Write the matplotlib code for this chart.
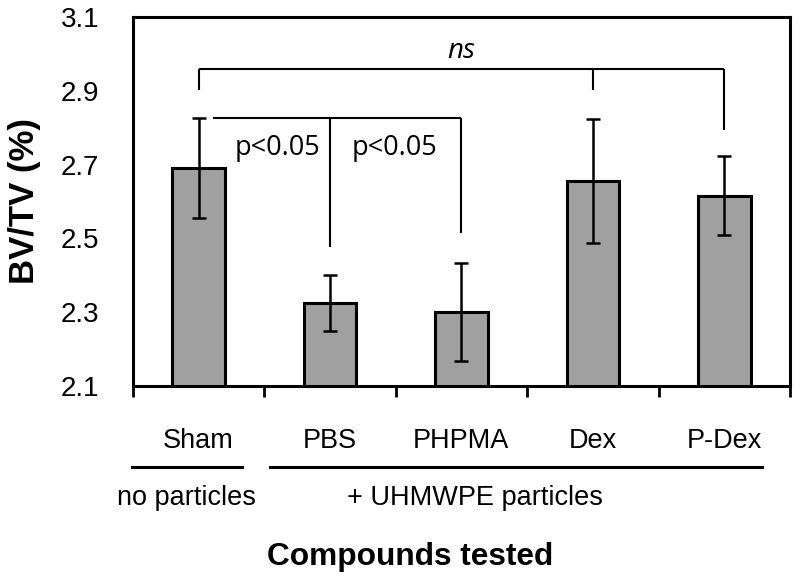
import numpy as np
import matplotlib
matplotlib.use('Agg')
import matplotlib.pyplot as plt
import matplotlib.transforms as mtransforms

categories = ['Sham', 'PBS', 'PHPMA', 'Dex', 'P-Dex']
bv_tv = [2.69, 2.325, 2.30, 2.655, 2.615]
err = [0.135, 0.077, 0.133, 0.168, 0.107]

plt.rcParams['font.family'] = ['Liberation Sans', 'DejaVu Sans']

fig = plt.figure(figsize=(8, 5.86), dpi=100)
ax = fig.add_axes([0.166, 0.3413, 0.8215, 0.6297])

x = np.arange(len(categories))
ax.bar(x, bv_tv, width=0.4, color='#a0a0a0', edgecolor='black', linewidth=2.2, zorder=2)
ax.errorbar(x, bv_tv, yerr=err, fmt='none', ecolor='black', elinewidth=1.8,
            capsize=5, capthick=1.8, zorder=3)

ax.set_xlim(-0.5, 4.5)
ax.set_ylim(2.1, 3.1)
ax.set_yticks([2.1, 2.3, 2.5, 2.7, 2.9, 3.1])
ax.set_yticklabels(['2.1', '2.3', '2.5', '2.7', '2.9', '3.1'])
ax.tick_params(axis='y', length=0, pad=24, labelsize=20)
ax.set_xticks(x)
ax.set_xticklabels(categories)
ax.tick_params(axis='x', which='major', length=0, pad=30, labelsize=19.5)
ax.set_xticks(np.arange(-0.5, 5, 1), minor=True)
ax.tick_params(axis='x', which='minor', length=8, width=2, direction='out')
for s in ax.spines.values():
    s.set_linewidth(2.2)

ax.set_ylabel('BV/TV (%)', fontsize=25, fontweight='bold', labelpad=14)

# significance brackets
lw = 1.5
kw = dict(color='black', linewidth=lw, clip_on=False, solid_capstyle='butt')
ax.plot([0, 4], [2.96, 2.96], **kw)
ax.plot([0, 0], [2.96, 2.902], **kw)
ax.plot([3, 3], [2.96, 2.902], **kw)
ax.plot([4, 4], [2.96, 2.795], **kw)
ax.text(2, 2.97, 'ns', fontsize=20, style='italic', family=['Open Sans', 'DejaVu Sans'],
        ha='center', va='bottom')

ax.plot([0.11, 2], [2.825, 2.825], **kw)
ax.plot([1, 1], [2.825, 2.477], **kw)
ax.plot([2, 2], [2.825, 2.515], **kw)
ax.text(0.6, 2.745, 'p<0.05', fontsize=19.5, family=['Open Sans', 'DejaVu Sans'],
        ha='center', va='center')
ax.text(1.49, 2.745, 'p<0.05', fontsize=19.5, family=['Open Sans', 'DejaVu Sans'],
        ha='center', va='center')

# group labels under the axis
trans = mtransforms.blended_transform_factory(ax.transData, fig.transFigure)
ax.plot([-0.508, 0.33], [0.203, 0.203], transform=trans, color='black', linewidth=2.2, clip_on=False)
ax.plot([0.543, 4.287], [0.203, 0.203], transform=trans, color='black', linewidth=2.2, clip_on=False)
ax.text(-0.09, 0.150, 'no particles', transform=trans, fontsize=19.5, ha='center', va='center')
ax.text(2.10, 0.150, '+ UHMWPE particles', transform=trans, fontsize=19.5, ha='center', va='center')
fig.text(0.5125, 0.0495, 'Compounds tested', fontsize=22.8, fontweight='bold', ha='center', va='center')

fig.savefig('out.png', dpi=100)
